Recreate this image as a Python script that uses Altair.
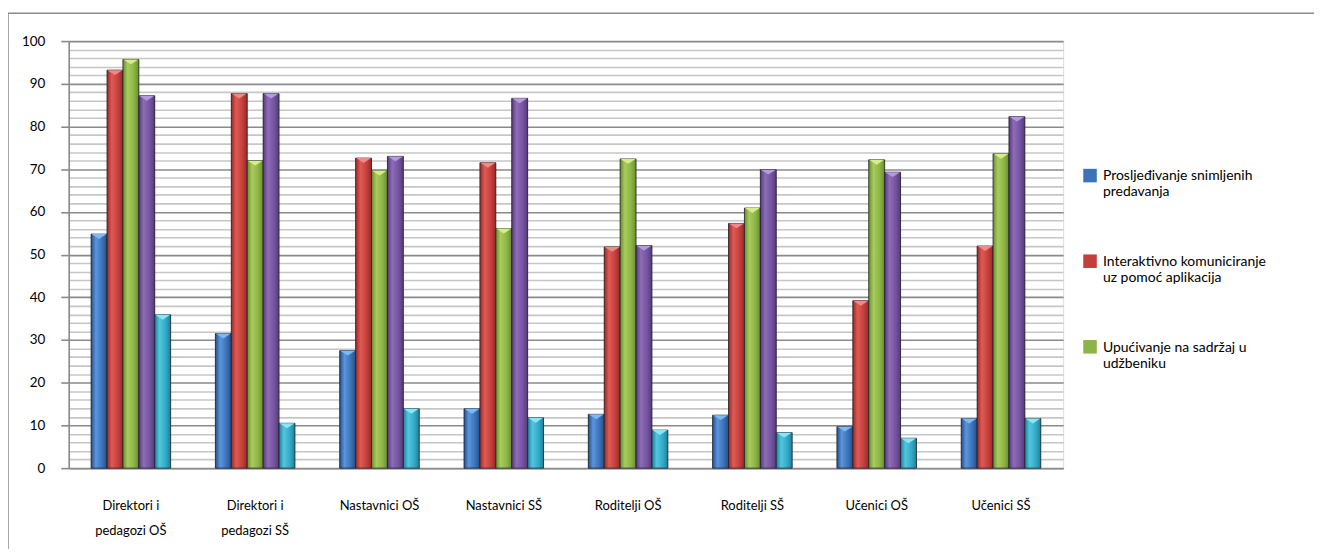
import altair as alt
import pandas as pd

categories = ["Direktori i\npedagozi OŠ", "Direktori i\npedagozi SŠ", "Nastavnici OŠ", "Nastavnici SŠ",
              "Roditelji OŠ", "Roditelji SŠ", "Učenici OŠ", "Učenici SŠ"]
series = ["Prosljeđivanje snimljenih\npredavanja",
          "Interaktivno komuniciranje\nuz pomoć aplikacija",
          "Upućivanje na sadržaj u\nudžbeniku",
          "Serija 4", "Serija 5"]
s1 = [54.8, 31.5, 27.5, 13.9, 12.6, 12.4, 9.7, 11.6]
s2 = [93.2, 87.7, 72.6, 71.5, 51.8, 57.3, 39.2, 52.0]
s3 = [95.7, 72.0, 69.7, 56.1, 72.4, 60.9, 72.2, 73.6]
s4 = [87.2, 87.7, 73.0, 86.6, 52.1, 69.9, 69.3, 82.3]
s5 = [35.9, 10.5, 13.9, 11.8, 8.9, 8.3, 7.0, 11.6]
values = [s1, s2, s3, s4, s5]

base_colors = ["#3b72b8", "#c43f3b", "#8db446", "#74549e", "#31a9c6"]
light_colors = ["#5b95dc", "#e05a55", "#a8cc5e", "#8e6cb8", "#52c6e0"]
dark_colors = ["#24508a", "#962a27", "#6a8c2c", "#553a7a", "#1f7f98"]
cap_colors = ["#7fb8f2", "#f08a86", "#d4ef8a", "#b49ade", "#8ae6f6"]

rows = []
for s, vals in zip(series, values):
    for c, v in zip(categories, vals):
        rows.append({"cat": c, "series": s, "value": v})
df = pd.DataFrame(rows)

FONT = "Lato"
GRID_MAJOR = "#8a8a8a"
GRID_MINOR = "#c6c6c6"

legend = alt.Legend(
    values=series[:3], orient="none", legendX=1019, legendY=122, title=None,
    symbolType="M-1,-0.1L1,-0.1L1,1.9L-1,1.9Z", symbolSize=185, symbolStrokeWidth=0,
    labelFont=FONT, labelFontSize=14, labelColor="#000000",
    labelExpr="split(datum.label, '\\n')", labelLimit=400, labelOffset=6,
    labelBaseline="top", rowPadding=49, padding=0,
)

x_enc = alt.X("cat:N", sort=categories,
              scale=alt.Scale(paddingInner=0.36, paddingOuter=0.18),
              axis=alt.Axis(title=None, labelAngle=0, ticks=False, labelPadding=32,
                            labelExpr="split(datum.label, '\\n')", labelLineHeight=25,
                            labelFont=FONT, labelFontSize=13, labelColor="#000000",
                            domainColor=GRID_MAJOR, domainWidth=1.5, labelBaseline="top"))
xo_enc = alt.XOffset("series:N", sort=series, scale=alt.Scale(paddingInner=0, paddingOuter=0))
y_enc = alt.Y("value:Q", scale=alt.Scale(domain=[0, 100], nice=False),
              axis=alt.Axis(title=None, values=list(range(0, 101, 2)),
                            labelExpr="datum.value % 10 === 0 ? datum.label : ''",
                            gridColor={"condition": {"test": "datum.value % 10 === 0", "value": GRID_MAJOR},
                                       "value": GRID_MINOR},
                            tickColor={"condition": {"test": "datum.value % 10 === 0", "value": GRID_MAJOR},
                                       "value": "transparent"},
                            gridWidth=1.6, tickWidth=1.6, tickSize=8, labelPadding=16,
                            domainColor=GRID_MAJOR, domainWidth=1.6,
                            labelFont=FONT, labelFontSize=13.5, labelColor="#000000"))

base = alt.Chart(df).encode(x=x_enc, xOffset=xo_enc, y=y_enc)

legend_layer = base.mark_bar().encode(
    color=alt.Color("series:N", sort=series,
                    scale=alt.Scale(domain=series, range=base_colors),
                    legend=legend)
)

layers = [legend_layer]
for i, s in enumerate(series):
    grad = alt.Gradient(
        gradient="linear", x1=0, x2=1, y1=0, y2=0,
        stops=[alt.GradientStop(color=dark_colors[i], offset=0),
               alt.GradientStop(color=light_colors[i], offset=0.3),
               alt.GradientStop(color=base_colors[i], offset=0.7),
               alt.GradientStop(color=dark_colors[i], offset=1)])
    filt = alt.FieldEqualPredicate(field="series", equal=s)
    layers.append(base.transform_filter(filt).mark_bar(fill=grad, stroke="#22222e", strokeWidth=0.8))
    layers.append(base.transform_filter(filt).mark_point(
        shape="M-1,0L1,0L0,0.65Z", size=230, filled=True, fill=cap_colors[i], opacity=1,
        strokeWidth=0))

frame_data = alt.Data(values=[{"k": 1}])
top_rule = alt.Chart(frame_data).mark_rule(color="#8a8a8a", strokeWidth=1.5).encode(
    x=alt.value(-61), x2=alt.value(1300), y=alt.value(-28))
left_rule = alt.Chart(frame_data).mark_rule(color="#8a8a8a", strokeWidth=1.5).encode(
    x=alt.value(-61), y=alt.value(-28), y2=alt.value(540))
layers += [top_rule, left_rule]

chart = alt.layer(*layers).properties(
    width=999, height=429,
    padding={"left": 61, "top": 32, "right": 252, "bottom": 80},
    autosize=alt.AutoSizeParams(type="none"),
).configure_view(stroke=None).configure(background="#ffffff")

chart.save("out.html", embed_options={"renderer": "svg", "actions": False})
